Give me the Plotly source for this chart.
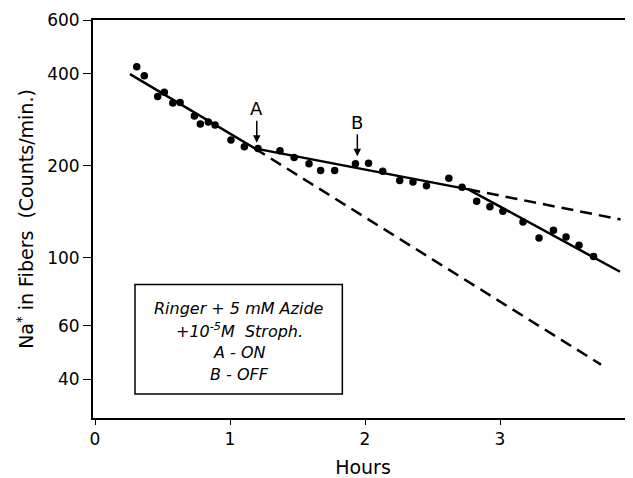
import numpy as np
import plotly.graph_objects as go

# Measured points (hours, counts/min)
hours = [0.309, 0.365, 0.464, 0.513, 0.576, 0.630, 0.736, 0.780, 0.839, 0.889,
         1.007, 1.106, 1.207, 1.370, 1.475, 1.585, 1.671, 1.775, 1.929, 2.026,
         2.131, 2.257, 2.355, 2.455, 2.621, 2.719, 2.827, 2.925, 3.021, 3.170,
         3.289, 3.396, 3.489, 3.585, 3.693]
counts = [422, 394, 337, 348, 321, 322, 291, 274, 278, 272,
          243, 231, 228, 224, 213, 203, 193, 193, 203, 204,
          192, 179, 177, 172, 182, 170, 153, 147, 142, 131,
          116, 123, 117, 110, 101]

# Fitted solid line (break points)
fit_x = [0.259, 1.183, 2.765, 3.889]
fit_y = [399, 228, 167.5, 90.0]

# Dashed extrapolations
ext1_x = [1.183, 3.748]
ext1_y = [228, 44.7]
ext2_x = [2.765, 3.893]
ext2_y = [167.5, 133.5]

y_ticks = [40, 60, 100, 200, 400, 600]
x_ticks = [0, 1, 2, 3, 4]

legend_lines = ["Ringer + 5 mM Azide", "+10<sup>-5</sup>M  Stroph.", "A - ON", "B - OFF"]

FONT = "DejaVu Sans"
fig = go.Figure()

fig.add_trace(go.Scatter(x=ext1_x, y=ext1_y, mode="lines",
                         line=dict(color="black", width=2.5, dash="12px,7px"),
                         showlegend=False))
fig.add_trace(go.Scatter(x=ext2_x, y=ext2_y, mode="lines",
                         line=dict(color="black", width=2.5, dash="12px,7px"),
                         showlegend=False))
fig.add_trace(go.Scatter(x=fit_x, y=fit_y, mode="lines",
                         line=dict(color="black", width=2.5),
                         showlegend=False))
fig.add_trace(go.Scatter(x=hours, y=counts, mode="markers",
                         marker=dict(color="black", size=7.5),
                         showlegend=False))

# A / B arrows
for label, xv, yhead in [("A", 1.198, 238.0), ("B", 1.943, 215.0)]:
    fig.add_annotation(x=xv, y=np.log10(yhead), xref="x", yref="y",
                       text=label, showarrow=True, arrowhead=2, arrowsize=1,
                       arrowwidth=1.5, arrowcolor="black", ax=0, ay=-34,
                       font=dict(family=FONT, size=18, color="black"))

# Legend box (shapes on log axes take data values)
fig.add_shape(type="rect", xref="x", yref="y",
              x0=0.296, x1=1.832, y0=35.8, y1=81.7,
              line=dict(color="black", width=1.5), fillcolor="rgba(0,0,0,0)")
line_y = [1.8338, 1.7626, 1.6885, 1.6174]
for txt, yy in zip(legend_lines, line_y):
    fig.add_annotation(x=1.067, y=yy, xref="x", yref="y", text="<i>" + txt + "</i>",
                       showarrow=False, font=dict(family=FONT, size=16, color="black"))

fig.update_xaxes(range=[-0.015, 3.985], tickvals=x_ticks, ticktext=[str(v) for v in x_ticks],
                 showgrid=False, zeroline=False, showline=True, linecolor="black",
                 linewidth=2, mirror=True, ticks="outside", ticklen=5, tickcolor="black",
                 tickfont=dict(family=FONT, size=17, color="black"),
                 title=dict(text="Hours", font=dict(family=FONT, size=19, color="black"), standoff=16))
fig.update_yaxes(type="log", range=[np.log10(29.9), np.log10(600)], tickvals=y_ticks,
                 ticktext=[str(v) for v in y_ticks],
                 showgrid=False, zeroline=False, showline=True, linecolor="black",
                 linewidth=2, ticks="outside", ticklen=8, tickcolor="black",
                 tickfont=dict(family=FONT, size=17, color="black"),
                 title=dict(text="Na<sup>*</sup> in Fibers  (Counts/min.)",
                            font=dict(family=FONT, size=19, color="black"), standoff=8))

fig.update_layout(width=625, height=470, margin=dict(l=85, r=0, t=12, b=60),
                  plot_bgcolor="white", paper_bgcolor="white")

fig.write_html("out.html")
